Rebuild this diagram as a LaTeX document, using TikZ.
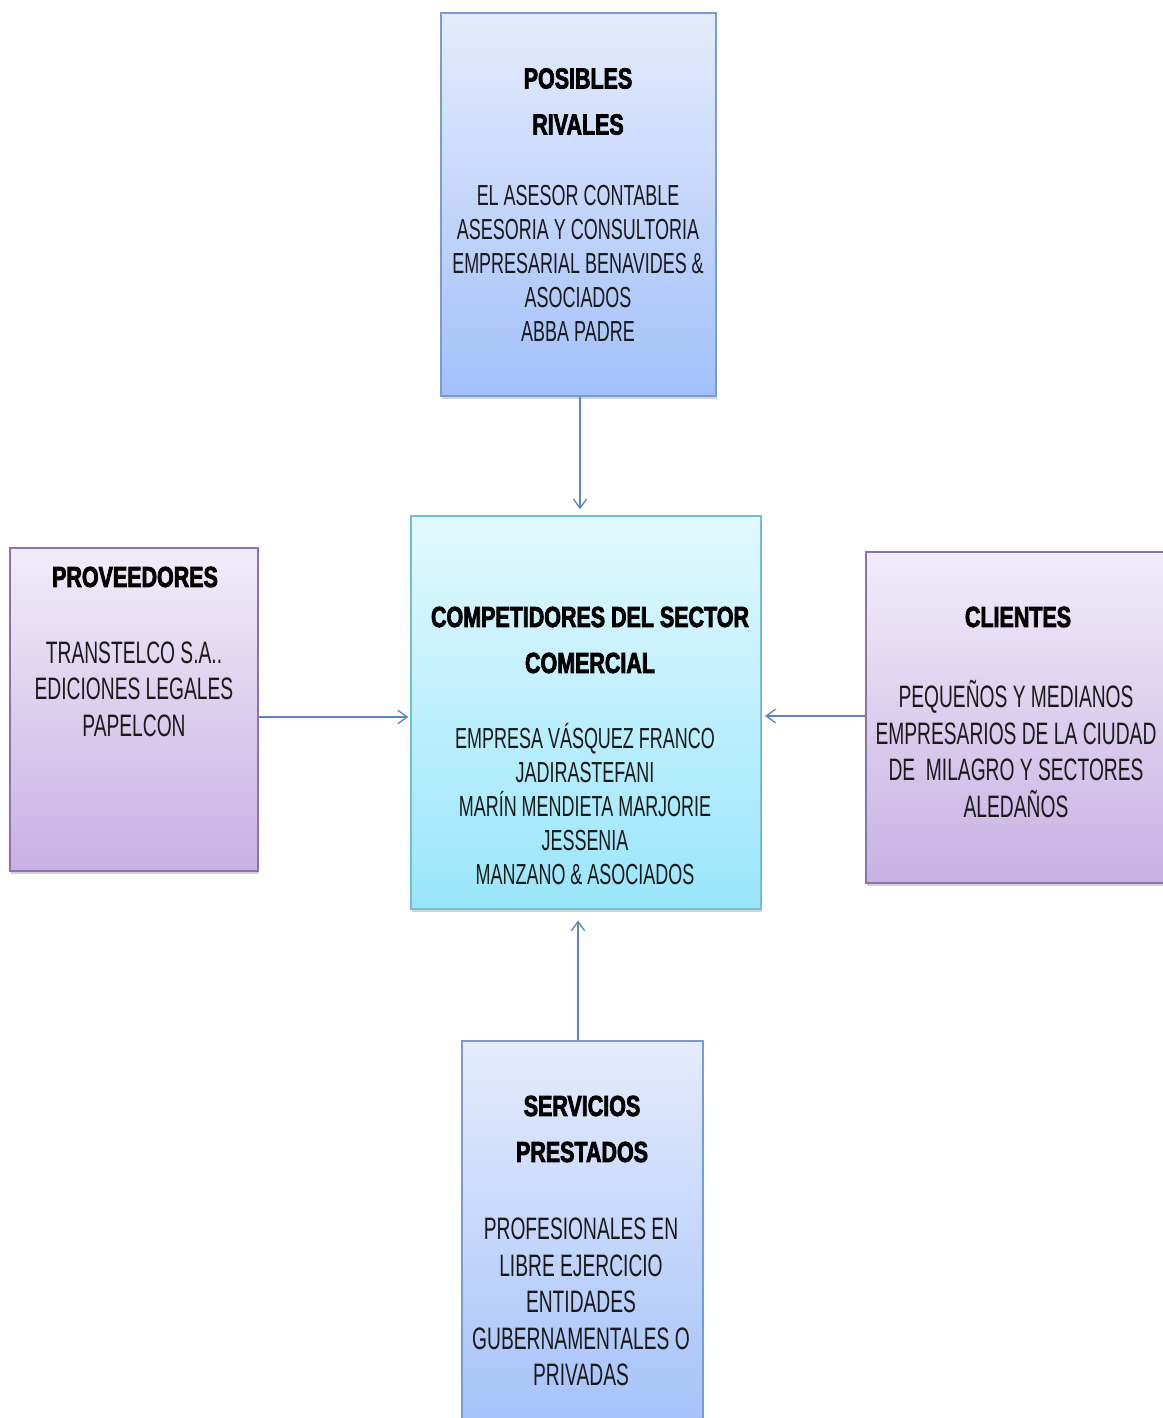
\documentclass[tikz,border=0pt]{standalone}
\usepackage{fontspec}
\setmainfont{Liberation Sans}[FakeStretch=0.62]
\newfontfamily\titlefont{Liberation Sans}[FakeStretch=0.74,BoldFeatures={FakeBold=2.6}]
\usetikzlibrary{arrows.meta,shadows}
\definecolor{bluetop}{HTML}{E4ECFC}
\definecolor{bluebot}{HTML}{A3C0F9}
\definecolor{blueline}{HTML}{7A9CD2}
\definecolor{cyantop}{HTML}{E2F8FE}
\definecolor{cyanbot}{HTML}{99E6FA}
\definecolor{cyanline}{HTML}{72BFD4}
\definecolor{purptop}{HTML}{F1ECF9}
\definecolor{purpbot}{HTML}{C7B1E3}
\definecolor{purpline}{HTML}{8A72B0}
\definecolor{arrowc}{HTML}{5B86C5}
\definecolor{txtc}{HTML}{1A1A1A}
\tikzset{
  boxbase/.style={rectangle, line width=1pt, inner sep=0pt,
    drop shadow={shadow xshift=1pt, shadow yshift=-2.5pt, opacity=0.35}},
  bluebox/.style={boxbase, draw=blueline, top color=bluetop, bottom color=bluebot},
  cyanbox/.style={boxbase, draw=cyanline, top color=cyantop, bottom color=cyanbot},
  purpbox/.style={boxbase, draw=purpline, top color=purptop, bottom color=purpbot},
  ttl/.style={align=center, text=black, inner sep=0pt,
    font=\titlefont\bfseries\fontsize{21.75}{34.5}\selectfont},
  bodyA/.style={align=center, text=txtc, inner sep=0pt,
    font=\fontsize{21.75}{25.5}\selectfont},
  bodyB/.style={align=center, text=txtc, inner sep=0pt,
    font=\fontsize{23.25}{27.4}\selectfont},
  arr/.style={draw=arrowc, line width=1pt,
    -{Straight Barb[length=7pt,width=10pt,line width=1pt]}}
}
\begin{document}
\begin{tikzpicture}[x=0.75pt,y=-0.75pt]
\useasboundingbox (0,0) rectangle (1163,1418);
\clip (0,0) rectangle (1163,1418);
% boxes
\node[bluebox, minimum width=206.25pt, minimum height=287.25pt] (top) at (578.5,204.5) {};
\node[cyanbox, minimum width=262.5pt, minimum height=294.75pt] (mid) at (586,712.5) {};
\node[purpbox, minimum width=186pt, minimum height=242.25pt] (left) at (134,709.5) {};
\node[purpbox, minimum width=235.5pt, minimum height=248.25pt] (right) at (1023,717.5) {};
\node[bluebox, minimum width=180.75pt, minimum height=299.25pt] (bot) at (582.5,1240.5) {};
% texts
\node[ttl] (topT) at (578,101.5) {POSIBLES\\RIVALES};
\node[bodyA] (topB) at (578,263.5) {EL ASESOR CONTABLE\\ASESORIA Y CONSULTORIA\\EMPRESARIAL BENAVIDES \&\\ASOCIADOS\\ABBA PADRE};
\node[ttl] (midT) at (590,640) {COMPETIDORES DEL SECTOR\\COMERCIAL};
\node[bodyA] (midB) at (585,804) {EMPRESA VÁSQUEZ FRANCO\\JADIRASTEFANI\\MARÍN MENDIETA MARJORIE\\JESSENIA\\MANZANO \& ASOCIADOS};
\node[ttl] (leftT) at (135,577) {PROVEEDORES};
\node[bodyB] (leftB) at (134,689) {TRANSTELCO S.A..\\EDICIONES LEGALES\\PAPELCON};
\node[ttl] (rightT) at (1018,617) {CLIENTES};
\node[bodyB] (rightB) at (1016,749) {PEQUEÑOS Y MEDIANOS\\EMPRESARIOS DE LA CIUDAD\\DE \ MILAGRO Y SECTORES\\ALEDAÑOS};
\node[ttl] (botT) at (582,1129) {SERVICIOS\\PRESTADOS};
\node[bodyB] (botB) at (581,1302) {PROFESIONALES EN\\LIBRE EJERCICIO\\ENTIDADES\\GUBERNAMENTALES O\\PRIVADAS};
% connectors
\draw[arr, shorten >=4.5pt] (top.south -| 580,0) -- (mid.north -| 580,0);
\draw[arr, shorten >=1.5pt] (left.east |- 0,717) -- (mid.west |- 0,717);
\draw[arr, shorten >=2.5pt] (right.west |- 0,716) -- (mid.east |- 0,716);
\draw[arr, shorten >=8pt] (bot.north -| 578,0) -- (mid.south -| 578,0);
\end{tikzpicture}
\end{document}
